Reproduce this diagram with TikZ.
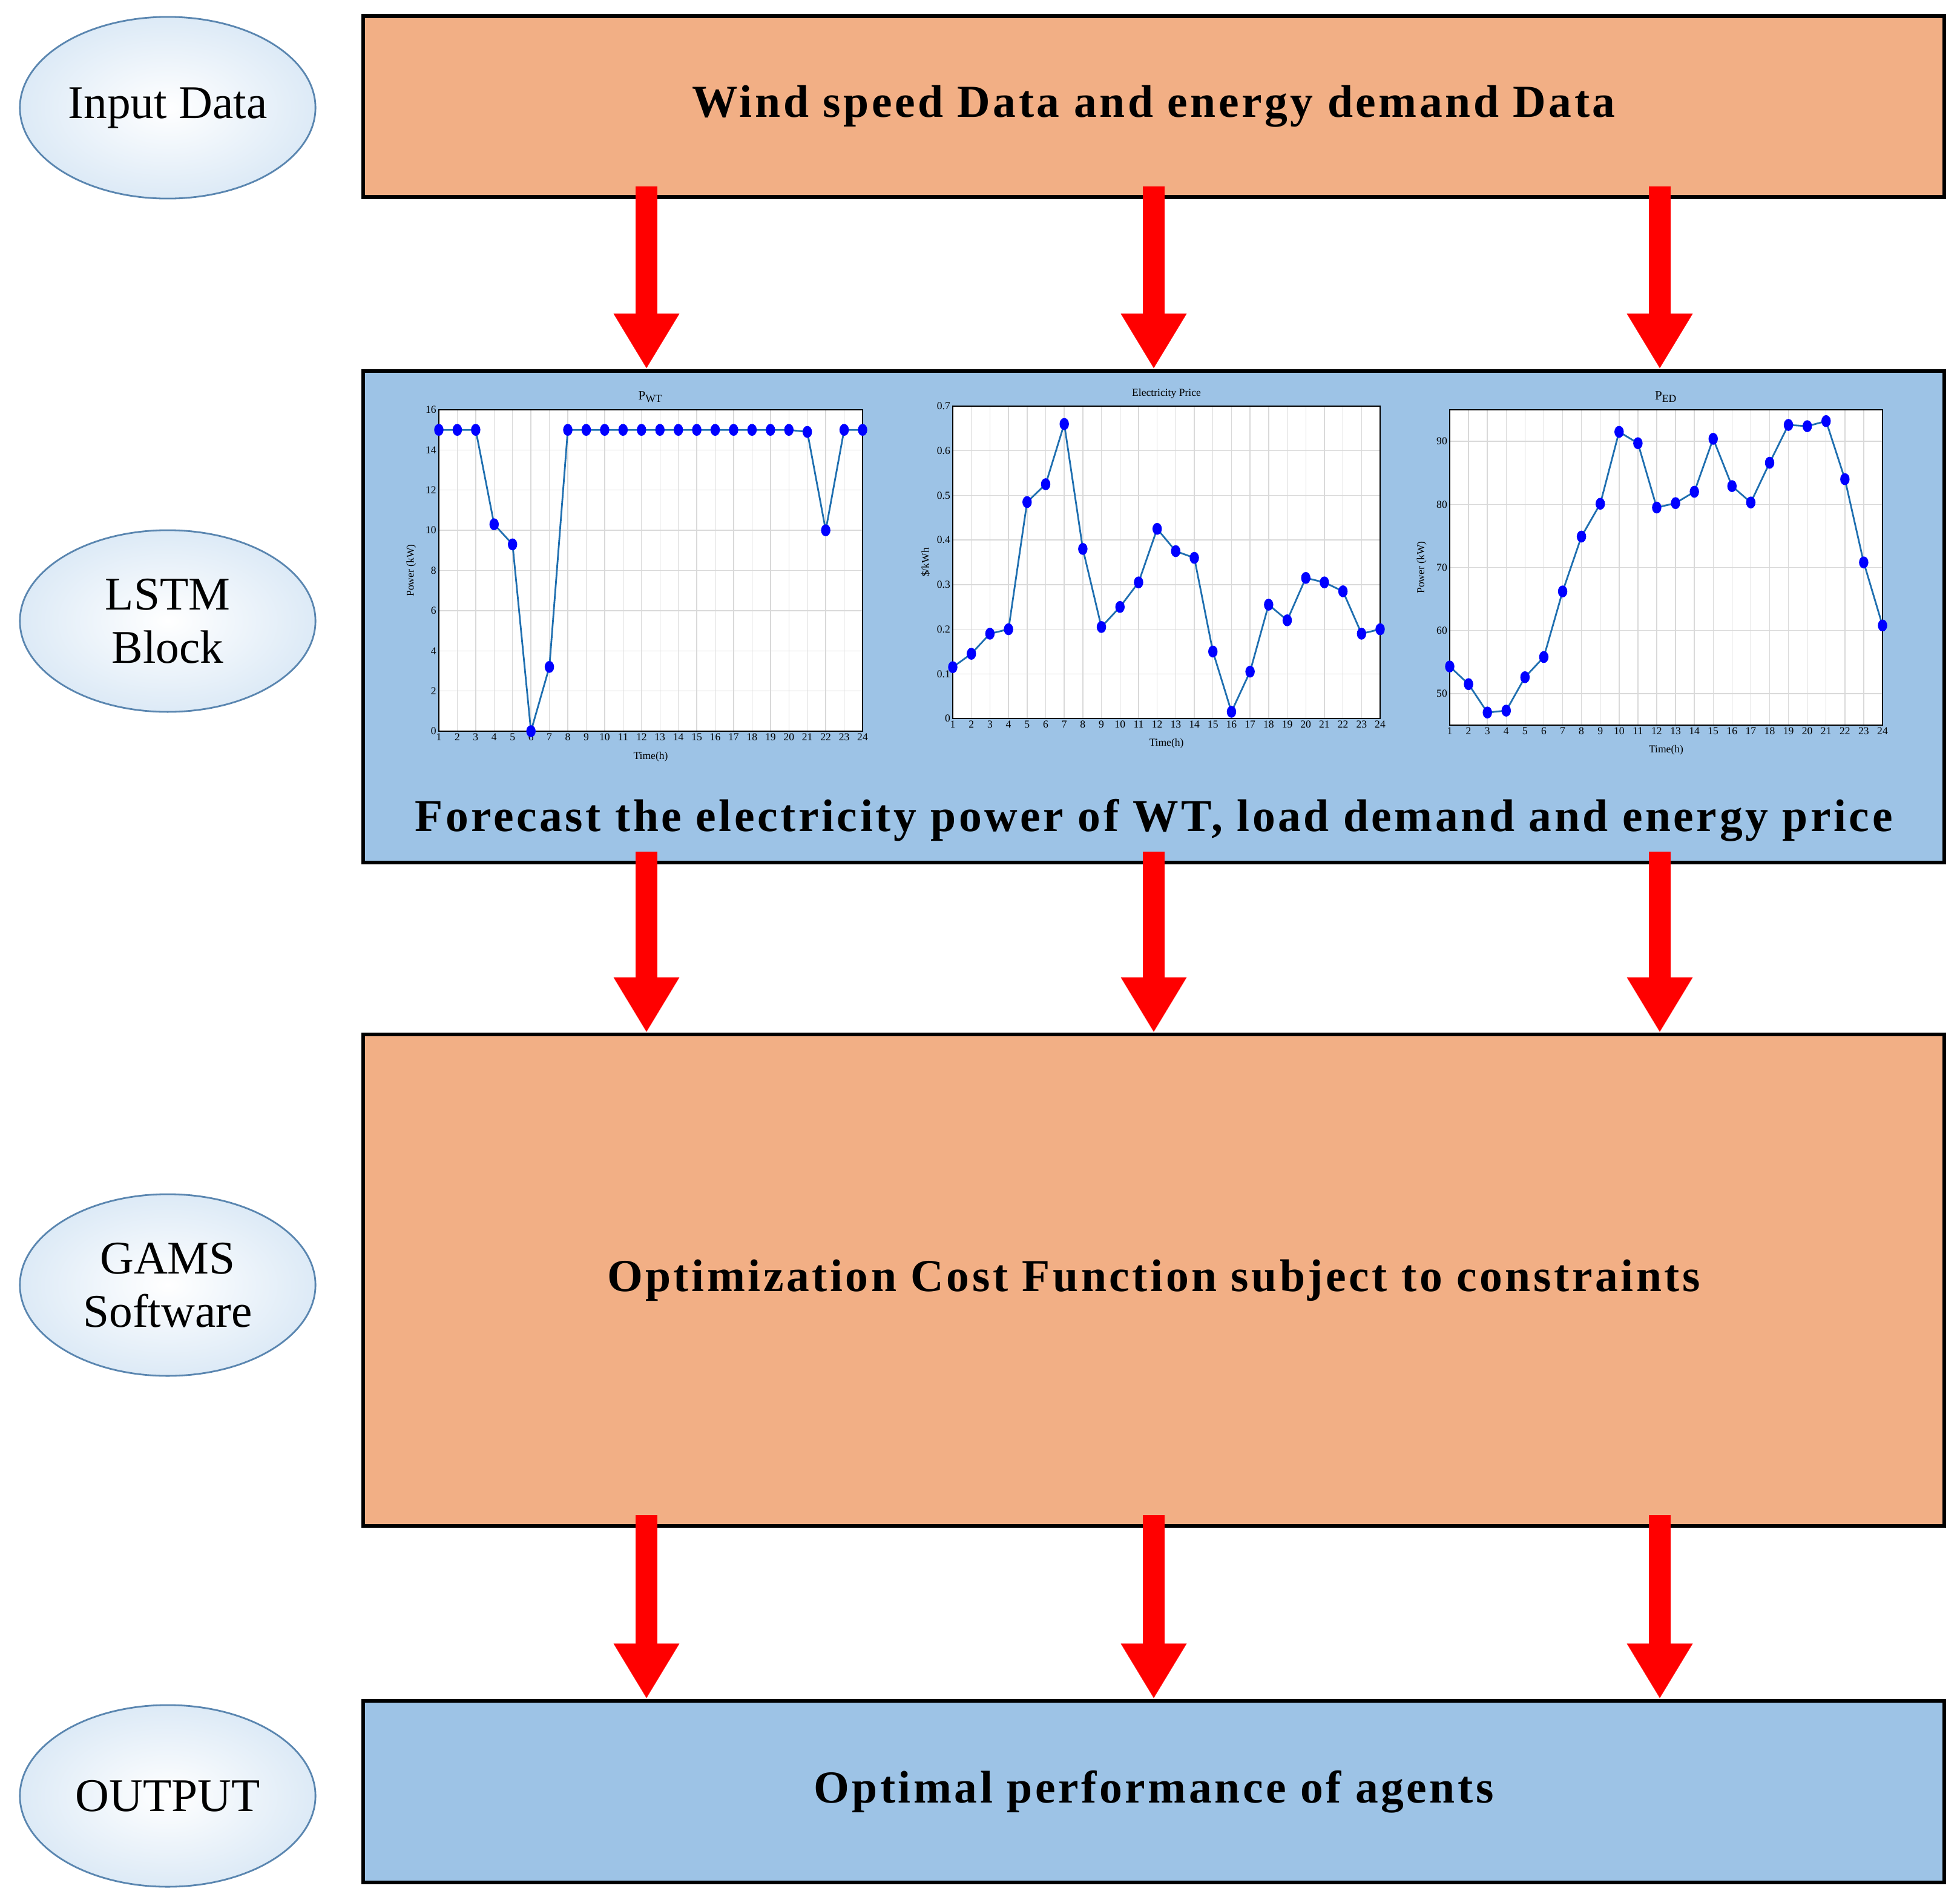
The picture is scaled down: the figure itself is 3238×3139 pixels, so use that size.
\documentclass[tikz,border=0pt]{standalone}
\usepackage{fontspec}
\setmainfont{Liberation Serif}
\newfontfamily\boxfont[LetterSpace=6]{Liberation Serif}
\usetikzlibrary{shapes.geometric,arrows.meta}
\definecolor{orng}{HTML}{F2AF85}
\definecolor{blu}{HTML}{9DC3E6}
\definecolor{ell}{HTML}{5A86B0}
\definecolor{ln}{HTML}{1F6FB0}
\tikzset{
  box/.style={draw=black,line width=1.8pt,minimum width=26.1cm},
  lbl/.style={draw=ell,line width=0.8pt,ellipse,inner sep=0pt,minimum width=4.88cm,minimum height=3.0cm,inner color=white,outer color=blu!35,font=\fontsize{22}{25}\selectfont,align=center},
  btxt/.style={font=\boxfont\bfseries\fontsize{21.5}{24}\selectfont},
  arr/.style={red,line width=10.5pt,-{Triangle[width=29pt,length=26pt]}},
  grd/.style={gray!30,line width=0.4pt},
  tk/.style={font=\fontsize{5}{5}\selectfont,inner sep=1pt},
  mk/.style={fill=blue},
}
\begin{document}
\begin{tikzpicture}[x=0.01cm,y=-0.01cm]
\useasboundingbox (0,0) rectangle (3238,3139);
\fill[white] (0,0) rectangle (3238,3139);
% boxes
\node[box,fill=orng,minimum height=2.99cm] (b1) at (1906,176) {};
\node[btxt] (t1) at (1906,176) {Wind speed Data and energy demand Data};
\node[box,fill=blu,minimum height=8.12cm] (b2) at (1906,1019) {};
\node[btxt] (t2) at (1906,1355) {Forecast the electricity power of WT, load demand and energy price};
\node[box,fill=orng,minimum height=8.11cm] (b3) at (1906,2115) {};
\node[btxt] (t3) at (1906,2115) {Optimization Cost Function subject to constraints};
\node[box,fill=blu,minimum height=3.0cm] (b4) at (1906,2960) {};
\node[btxt] (t4) at (1906,2960) {Optimal performance of agents};
% ellipses
\node[lbl] (e1) at (277,178) {Input Data};
\node[lbl] (e2) at (277,1026) {LSTM\\Block};
\node[lbl] (e3) at (277,2123) {GAMS\\Software};
\node[lbl] (e4) at (277,2967) {OUTPUT};
% arrows
\foreach \xx [count=\k] in {1068,1906,2742}{
  \coordinate (c\k) at (\xx,0);
  \draw[arr] ([yshift=6pt]c\k |- b1.south) -- (c\k |- b2.north);
  \draw[arr] ([yshift=6pt]c\k |- b2.south) -- (c\k |- b3.north);
  \draw[arr] ([yshift=6pt]c\k |- b3.south) -- (c\k |- b4.north);
}
% chart 1
\begin{scope}[shift={(725,1208)},x={(700/23*0.01cm,0)},y={(0,531/16*0.01cm)}]
\fill[white] (0,0) rectangle (23,16);
\foreach \i in {0,...,23} \draw[grd] (\i,0) -- (\i,16);
\foreach \v in {0,2,...,16} {\draw[grd] (0,\v) -- (23,\v); \node[tk,anchor=east] (ya\v) at (0,\v) {\v};}
\foreach \i in {1,...,24} \node[tk,anchor=north] (xa\i) at (\i-1,0) {\i};
\draw[black,line width=0.5pt] (0,0) rectangle (23,16);
\foreach \v [count=\i] in {15,15,15,10.3,9.3,0,3.2,15,15,15,15,15,15,15,15,15,15,15,15,15,14.9,10,15,15}
  \coordinate (a\i) at (\i-1,\v);
\draw[ln,line width=0.8pt] (a1) \foreach \i in {2,...,24}{-- (a\i)};
\foreach \i in {1,...,24} \fill[mk] (a\i) ellipse [x radius=2.2pt,y radius=2.8pt];
\node[tk,anchor=north] (xla) at (11.5,-0.9) {Time(h)};
\node[tk,rotate=90,anchor=south] (yla) at (-1.1,8) {Power (kW)};
\node[font=\fontsize{6}{6}\selectfont,anchor=south] (tla) at (11.5,16) {P$_{\mathrm{WT}}$};
\end{scope}
% chart 2
\begin{scope}[shift={(1574,1187)},x={(706/23*0.01cm,0)},y={(0,516/0.7*0.01cm)}]
\fill[white] (0,0) rectangle (23,0.7);
\foreach \i in {0,...,23} \draw[grd] (\i,0) -- (\i,0.7);
\foreach \v in {0,0.1,0.2,0.3,0.4,0.5,0.6,0.7} {\draw[grd] (0,\v) -- (23,\v); \node[tk,anchor=east] at (0,\v) {\v};}
\foreach \i in {1,...,24} \node[tk,anchor=north] (xb\i) at (\i-1,0) {\i};
\draw[black,line width=0.5pt] (0,0) rectangle (23,0.7);
\foreach \v [count=\i] in {0.115,0.145,0.19,0.2,0.485,0.525,0.66,0.38,0.205,0.25,0.305,0.425,0.375,0.36,0.15,0.015,0.105,0.255,0.22,0.315,0.305,0.285,0.19,0.2}
  \coordinate (b\i) at (\i-1,\v);
\draw[ln,line width=0.8pt] (b1) \foreach \i in {2,...,24}{-- (b\i)};
\foreach \i in {1,...,24} \fill[mk] (b\i) ellipse [x radius=2.2pt,y radius=2.8pt];
\node[tk,anchor=north] (xlb) at (11.5,-0.04) {Time(h)};
\node[tk,rotate=90,anchor=south] (ylb) at (-1.1,0.35) {\$/kWh};
\node[font=\fontsize{5}{5}\selectfont,anchor=south] (tlb) at (11.5,0.7) {Electricity Price};
\end{scope}
% chart 3
\begin{scope}[shift={(2395,1198)},x={(715/23*0.01cm,0)},y={(0,521/50*0.01cm)}]
\fill[white] (0,0) rectangle (23,50);
\foreach \i in {0,...,23} \draw[grd] (\i,0) -- (\i,50);
\foreach \v in {50,60,70,80,90} {\draw[grd] (0,\v-45) -- (23,\v-45); \node[tk,anchor=east] at (0,\v-45) {\v};}
\foreach \i in {1,...,24} \node[tk,anchor=north] (xc\i) at (\i-1,0) {\i};
\draw[black,line width=0.5pt] (0,0) rectangle (23,50);
\foreach \v [count=\i] in {54.3,51.5,47,47.3,52.6,55.8,66.2,74.9,80.1,91.5,89.7,79.5,80.2,82,90.4,82.9,80.3,86.6,92.6,92.4,93.2,84,70.8,60.8}
  \coordinate (d\i) at (\i-1,\v-45);
\draw[ln,line width=0.8pt] (d1) \foreach \i in {2,...,24}{-- (d\i)};
\foreach \i in {1,...,24} \fill[mk] (d\i) ellipse [x radius=2.2pt,y radius=2.8pt];
\node[tk,anchor=north] (xlc) at (11.5,-2.8) {Time(h)};
\node[tk,rotate=90,anchor=south] (ylc) at (-1.1,25) {Power (kW)};
\node[font=\fontsize{6}{6}\selectfont,anchor=south] (tlc) at (11.5,50) {P$_{\mathrm{ED}}$};
\end{scope}
\end{tikzpicture}
\end{document}
